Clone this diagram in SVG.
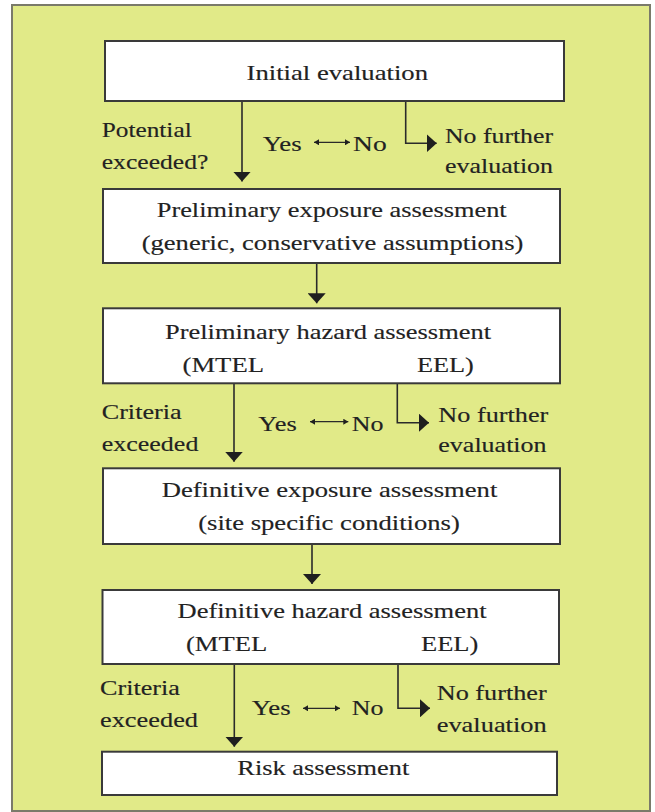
<svg xmlns="http://www.w3.org/2000/svg" width="655" height="812" viewBox="0 0 655 812">
<style>
.panel{fill:#e1ea88;stroke:#7a7a6a;stroke-width:2}
.box{fill:#ffffff;stroke:#3a3a3a;stroke-width:2}
.t{font-family:"Liberation Serif","Times New Roman",serif;font-size:20px;fill:#222222;stroke:#222222;stroke-width:0.15}
.b{font-size:21px}
.c{text-anchor:middle}
.ln{fill:none;stroke:#2a2a2a;stroke-width:1.6}
.dbl{fill:none;stroke:#2a2a2a;stroke-width:1.2}
</style>
<defs>
<marker id="big" markerUnits="userSpaceOnUse" markerWidth="11" markerHeight="18" refX="10" refY="9" orient="auto">
<path d="M0,0 L10,9 L0,18 Z" fill="#1f1f1f"/>
</marker>
<marker id="sm" markerUnits="userSpaceOnUse" markerWidth="6" markerHeight="6" refX="5" refY="3" orient="auto-start-reverse">
<path d="M0,0 L5,3 L0,6 Z" fill="#1f1f1f"/>
</marker>
</defs>
<rect class="panel" x="12" y="5" width="638" height="806"/>

<g id="connectors">
<path class="ln" d="M242,101 V181.5" marker-end="url(#big)"/>
<path class="ln" d="M405.7,101 V143.3 H436.7" marker-end="url(#big)"/>
<path class="dbl" d="M314,142.3 H350" marker-start="url(#sm)" marker-end="url(#sm)"/>
<path class="ln" d="M316.7,263 V303.3" marker-end="url(#big)"/>
<path class="ln" d="M234,383.3 V461.7" marker-end="url(#big)"/>
<path class="ln" d="M397.3,381 V422.7 H429" marker-end="url(#big)"/>
<path class="dbl" d="M310,421.7 H348.3" marker-start="url(#sm)" marker-end="url(#sm)"/>
<path class="ln" d="M312,544 V584" marker-end="url(#big)"/>
<path class="ln" d="M234.3,664 V746.7" marker-end="url(#big)"/>
<path class="ln" d="M398,664 V708.3 H430" marker-end="url(#big)"/>
<path class="dbl" d="M303,708.3 H340" marker-start="url(#sm)" marker-end="url(#sm)"/>
</g>

<g id="initial-evaluation">
<rect class="box" x="105" y="41" width="459" height="60"/>
<text class="t b c" transform="translate(337.3,80) scale(1.3,1)" textLength="139.6" lengthAdjust="spacingAndGlyphs">Initial evaluation</text>
</g>

<g id="decision-1">
<text class="t" transform="translate(101.7,136.7) scale(1.3,1)" textLength="69.2" lengthAdjust="spacingAndGlyphs">Potential</text>
<text class="t" transform="translate(101.7,169.3) scale(1.3,1)" textLength="82.1" lengthAdjust="spacingAndGlyphs">exceeded?</text>
<text class="t" transform="translate(262.7,150.7) scale(1.3,1)" textLength="30" lengthAdjust="spacingAndGlyphs">Yes</text>
<text class="t" transform="translate(353,150.7) scale(1.3,1)" textLength="25.9" lengthAdjust="spacingAndGlyphs">No</text>
<text class="t" transform="translate(445,143.3) scale(1.3,1)" textLength="83.1" lengthAdjust="spacingAndGlyphs">No further</text>
<text class="t" transform="translate(445,173.3) scale(1.3,1)" textLength="83.1" lengthAdjust="spacingAndGlyphs">evaluation</text>
</g>

<g id="preliminary-exposure">
<rect class="box" x="103" y="189" width="457" height="74"/>
<text class="t b c" transform="translate(331.7,216.7) scale(1.3,1)" textLength="269.2" lengthAdjust="spacingAndGlyphs">Preliminary exposure assessment</text>
<text class="t b c" transform="translate(332.5,250) scale(1.3,1)" textLength="293.6" lengthAdjust="spacingAndGlyphs">(generic, conservative assumptions)</text>
</g>

<g id="preliminary-hazard">
<rect class="box" x="103" y="308.3" width="457" height="75"/>
<text class="t b c" transform="translate(328,339.3) scale(1.3,1)" textLength="250.8" lengthAdjust="spacingAndGlyphs">Preliminary hazard assessment</text>
<text class="t b" transform="translate(182.5,371.7) scale(1.3,1)" textLength="62.7" lengthAdjust="spacingAndGlyphs">(MTEL</text>
<text class="t b" transform="translate(416.9,371.7) scale(1.3,1)" textLength="43.8" lengthAdjust="spacingAndGlyphs">EEL)</text>
</g>

<g id="decision-2">
<text class="t" transform="translate(101.7,419.3) scale(1.3,1)" textLength="61.5" lengthAdjust="spacingAndGlyphs">Criteria</text>
<text class="t" transform="translate(101.7,450.7) scale(1.3,1)" textLength="74.4" lengthAdjust="spacingAndGlyphs">exceeded</text>
<text class="t" transform="translate(258.3,430.7) scale(1.3,1)" textLength="29.5" lengthAdjust="spacingAndGlyphs">Yes</text>
<text class="t" transform="translate(351.7,430.7) scale(1.3,1)" textLength="24.4" lengthAdjust="spacingAndGlyphs">No</text>
<text class="t" transform="translate(438.3,421.7) scale(1.3,1)" textLength="84.6" lengthAdjust="spacingAndGlyphs">No further</text>
<text class="t" transform="translate(438.3,451.7) scale(1.3,1)" textLength="83.3" lengthAdjust="spacingAndGlyphs">evaluation</text>
</g>

<g id="definitive-exposure">
<rect class="box" x="103" y="468.3" width="457" height="75.7"/>
<text class="t b c" transform="translate(329.5,496.7) scale(1.3,1)" textLength="258.2" lengthAdjust="spacingAndGlyphs">Definitive exposure assessment</text>
<text class="t b c" transform="translate(329,530) scale(1.3,1)" textLength="201.3" lengthAdjust="spacingAndGlyphs">(site specific conditions)</text>
</g>

<g id="definitive-hazard">
<rect class="box" x="102.5" y="590" width="456.5" height="74"/>
<text class="t b c" transform="translate(332,618.3) scale(1.3,1)" textLength="237.7" lengthAdjust="spacingAndGlyphs">Definitive hazard assessment</text>
<text class="t b" transform="translate(185.9,650.7) scale(1.3,1)" textLength="62.6" lengthAdjust="spacingAndGlyphs">(MTEL</text>
<text class="t b" transform="translate(421,650.7) scale(1.3,1)" textLength="44.1" lengthAdjust="spacingAndGlyphs">EEL)</text>
</g>

<g id="decision-3">
<text class="t" transform="translate(100,695) scale(1.3,1)" textLength="61.5" lengthAdjust="spacingAndGlyphs">Criteria</text>
<text class="t" transform="translate(100,726.7) scale(1.3,1)" textLength="75.4" lengthAdjust="spacingAndGlyphs">exceeded</text>
<text class="t" transform="translate(251.7,715) scale(1.3,1)" textLength="30" lengthAdjust="spacingAndGlyphs">Yes</text>
<text class="t" transform="translate(351.7,715) scale(1.3,1)" textLength="24.4" lengthAdjust="spacingAndGlyphs">No</text>
<text class="t" transform="translate(436.7,700) scale(1.3,1)" textLength="84.6" lengthAdjust="spacingAndGlyphs">No further</text>
<text class="t" transform="translate(436.7,731.7) scale(1.3,1)" textLength="84.6" lengthAdjust="spacingAndGlyphs">evaluation</text>
</g>

<g id="risk-assessment">
<rect class="box" x="102" y="751.7" width="455" height="43.3"/>
<text class="t b c" transform="translate(323.3,775) scale(1.3,1)" textLength="132.3" lengthAdjust="spacingAndGlyphs">Risk assessment</text>
</g>
</svg>
